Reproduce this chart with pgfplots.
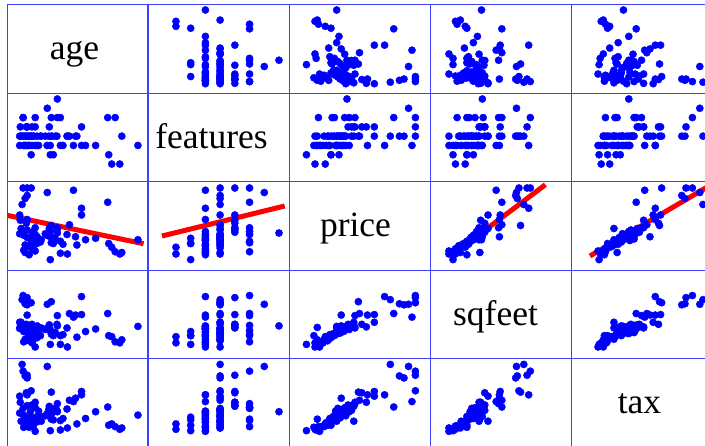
\documentclass[border=0pt]{standalone}
\usepackage{fontspec}
\setmainfont{Liberation Serif}
\usepackage{pgfplots}
\pgfplotsset{compat=1.18}
\usepackage{pgfplotstable}
\pgfplotstableread{
age feat price sqfeet tax
3 5 96 100 90
5 4 96 96 84
7 3 96 86 61
28 2 93 58 45
15 6 90 83 97
5 3 86 82 80
4 3 82 84 83
45 5 77 65 37
2.5 3 74 92 100
32 2 69 98 55
32 4 60 63 60
1.3 3 60 48 53
1.6 4 53 39 44
5 2 54 62 55
4.6 4 49 44 58
26 3 47 65 47
9 4 43 37 44
20 5 43 61 42
17 3 46 88 59
29 3 31 62 50
16 4 42 43 38
34 2 27 30 20
39 2 29 35 30
60 2 27 40 25
20 7 36 41 30
45.5 1 22 22 10
47 0 17 20 12
51 0 8 8 4
48.7 5 11 10 8
52 3 10 14 6
16.5 1 0.5 5 2
21.5 2 9 5 3
25 3 8 0 6
22.8 2 21 24 20
7 1 29 30 22
18 1 22 22 18
17 5 23 25 19
1.3 2 35 36 28
3.3 3 33 30 25
5 3 30 28 21
6.6 3 28 26 30
8.3 3 25 24 18
9.9 3 22 18 15
4 2 20 15 16
5.8 2 18 20 14
7.4 2 15 8 9
9 2 12 0 1
10.7 2 26 28 31
3 5 38 42 35
9 5 34 32 36
5 4 40 38 39
7.4 4 37 44 40
14 3 35 34 24
15.7 3 32 33 33
17.4 3 30 27 28
19 3 28 28 35
19.8 3 40 44 32
14.9 2 33 36 27
16.5 2 38 34 30
21.5 5 25 22 17
24.8 3 34 37 34
29.7 3 20 19 12
6 3 19 12 10
3.3 2 13 10 7
8 3 16 14 8
11.6 3 24 22 23
2 3 42 48 16
10 2 31 41 23
12 3 27 37 16
6 2 7 22 7
4 2 10 38 19
}\data

\pgfplotsset{
 spmcell/.style={scale only axis, width=141pt, height=88.5pt, anchor=north west,
   xtick=\empty, ytick=\empty, axis line style={draw=blue!75, line width=1pt}},
 xage/.style={xmin=-5,xmax=65}, yage/.style={ymin=-6.5,ymax=64},
 xfeat/.style={xmin=-1.9,xmax=7.68}, yfeat/.style={ymin=-1.93,ymax=7.59},
 xprice/.style={xmin=-14.8,xmax=108.8}, yprice/.style={ymin=-14,ymax=104},
 xsqfeet/.style={xmin=-23.3,xmax=150}, ysqfeet/.style={ymin=-23.4,ymax=148.7},
 xtax/.style={xmin=-24.5,xmax=108.5}, ytax/.style={ymin=-22.9,ymax=108},
}
\newcommand\spm[5]{%
\begin{axis}[spmcell, at={(#2*141pt,-#1*88.5pt)}, x#3, y#4]
\addplot[only marks, mark=*, mark size=3.6pt, color=blue] table[x=#3,y=#4]{\data};
#5
\end{axis}}
\newcommand\diag[3]{%
\begin{axis}[spmcell, at={(#1*141pt,-#1*88.5pt)}, xmin=0,xmax=1,ymin=0,ymax=1]
\node[anchor=base, font=\fontsize{35.5}{40}\selectfont, xshift=#3, inner sep=0pt] at (rel axis cs:0.5,0.384) {#2};
\end{axis}}

\begin{document}
\begin{tikzpicture}
\begin{scope}
\clip (-7pt,5pt) rectangle (698pt,-441pt);
\diag{0}{age}{-3pt}
\spm{0}{1}{feat}{age}{}
\spm{0}{2}{price}{age}{}
\spm{0}{3}{sqfeet}{age}{}
\spm{0}{4}{tax}{age}{}
\spm{1}{0}{age}{feat}{}
\diag{1}{features}{-7pt}
\spm{1}{2}{price}{feat}{}
\spm{1}{3}{sqfeet}{feat}{}
\spm{1}{4}{tax}{feat}{}
\spm{2}{0}{age}{price}{\addplot[red, line width=5pt] coordinates {(-5,59.6) (62.8,21.7)};}
\spm{2}{1}{feat}{price}{\addplot[red, line width=5pt] coordinates {(-0.95,32) (7.39,72)};}
\diag{2}{price}{-4pt}
\spm{2}{3}{sqfeet}{price}{\addplot[red, line width=5pt] coordinates {(2.1,5.3) (118.5,100.4)};}
\spm{2}{4}{tax}{price}{\addplot[red, line width=5pt] coordinates {(-6.6,5.3) (108.5,101)};}
\spm{3}{0}{age}{sqfeet}{}
\spm{3}{1}{feat}{sqfeet}{}
\spm{3}{2}{price}{sqfeet}{}
\diag{3}{sqfeet}{-5pt}
\spm{3}{4}{tax}{sqfeet}{}
\spm{4}{0}{age}{tax}{}
\spm{4}{1}{feat}{tax}{}
\spm{4}{2}{price}{tax}{}
\spm{4}{3}{sqfeet}{tax}{}
\diag{4}{tax}{-2pt}
\end{scope}
\pgfresetboundingbox
\path[use as bounding box] (-7pt,5pt) rectangle (698pt,-441pt);
\end{tikzpicture}
\end{document}
